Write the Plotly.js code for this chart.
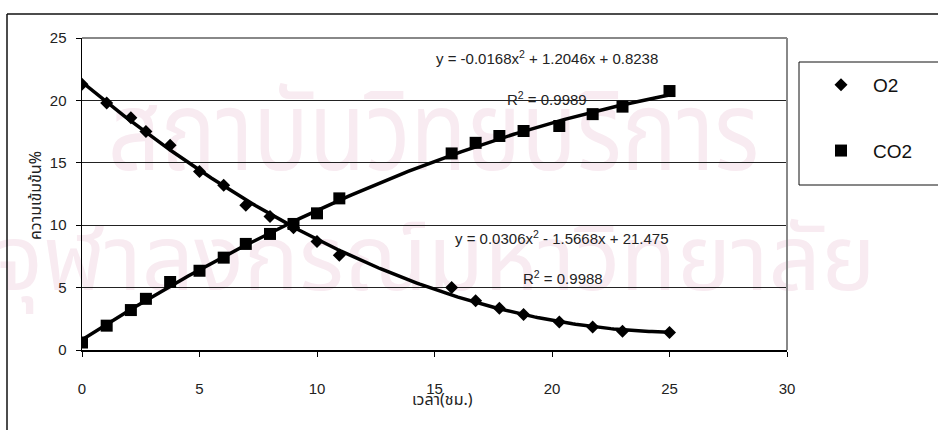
<!DOCTYPE html>
<html>
<head>
<meta charset="utf-8">
<script src="https://cdn.plot.ly/plotly-3.0.1.min.js"></script>
<style>
  html, body { margin: 0; padding: 0; background: #ffffff; }
  #wrap { position: relative; width: 938px; height: 430px; overflow: hidden; }
  #wm { position: absolute; left: 0; top: 0; width: 938px; height: 430px; z-index: 0; }
  #wm span { position: absolute; white-space: nowrap; color: #f8ebf1; transform-origin: 0 0;
             font-family: "Noto Sans Thai", "Loma", "Garuda", "Noto Sans", sans-serif; }
  #chart { position: absolute; left: 0; top: 0; z-index: 1; }
</style>
</head>
<body>
<div id="wrap">
  <div id="wm">
    <span style="left:108px; top:52px; font-size:92px; transform: scaleY(1.2);">สถาบันวิทยบริการ</span>
    <span style="left:-6px; top:192px; font-size:92px;">จุฬาลงกรณ์มหาวิทยาลัย</span>
  </div>
  <div id="chart"></div>
</div>
<script>
// Sampling times (hours)
const timeHours = [0, 1.05, 2.08, 2.72, 3.75, 5.0, 6.03, 6.97, 8.0, 9.0, 10.0, 10.95,
                   15.73, 16.75, 17.76, 18.79, 20.31, 21.73, 23.0, 25.0];
// Measured gas concentrations (%)
const o2Values  = [21.3, 19.8, 18.6, 17.5, 16.4, 14.3, 13.2, 11.6, 10.7, 9.8, 8.7, 7.6,
                   5.0, 3.95, 3.35, 2.85, 2.25, 1.85, 1.5, 1.4];
const co2Values = [0.6, 1.95, 3.2, 4.1, 5.45, 6.35, 7.4, 8.5, 9.3, 10.1, 10.95, 12.15,
                   15.75, 16.6, 17.15, 17.55, 17.95, 18.9, 19.5, 20.75];
// Polynomial trendline coefficients [a, b, c] for y = a*x^2 + b*x + c
const o2Fit  = [0.0306, -1.5668, 21.475];
const co2Fit = [-0.0168, 1.2046, 0.8238];
const o2R2 = "0.9988";
const co2R2 = "0.9989";
const seriesNames = ["O2", "CO2"];
const xTicks = [0, 5, 10, 15, 20, 25, 30];
const yTicks = [0, 5, 10, 15, 20, 25];

// Trendline drawn over the sampled time span
const tMin = Math.min(...timeHours), tMax = Math.max(...timeHours);
const fitX = [];
for (let i = 0; i <= 200; i++) fitX.push(tMin + (tMax - tMin) * i / 200);
const poly = (c, x) => c[0] * x * x + c[1] * x + c[2];
const fmt = (v, d) => (v < 0 ? "-" : "") + Math.abs(v).toFixed(d);
const eqText = c => "y = " + fmt(c[0], 4) + "x<sup>2</sup> " + (c[1] < 0 ? "- " : "+ ") +
  Math.abs(c[1]).toFixed(4) + "x " + (c[2] < 0 ? "- " : "+ ") + Math.abs(c[2]).toString();

const txtFont = { family: "Liberation Sans, Arial, sans-serif", size: 15, color: "#222" };
const thaiFont = { family: "Noto Sans Thai, Loma, Garuda, Liberation Sans, sans-serif", size: 16, color: "#222" };

const traces = [
  { x: fitX, y: fitX.map(x => poly(o2Fit, x)), mode: "lines", showlegend: false,
    line: { color: "#000", width: 3.5 }, hoverinfo: "skip" },
  { x: fitX, y: fitX.map(x => poly(co2Fit, x)), mode: "lines", showlegend: false,
    line: { color: "#000", width: 3.5 }, hoverinfo: "skip" },
  { x: timeHours, y: o2Values, mode: "markers", name: seriesNames[0], legendgroup: "a",
    marker: { symbol: "diamond", size: 10, color: "#000" } },
  { x: timeHours, y: co2Values, mode: "markers", name: seriesNames[1], legendgroup: "b",
    marker: { symbol: "square", size: 12, color: "#000" } }
];

const px2xp = p => (p - 82) / 705;
const py2yp = p => (350 - p) / 312;
const hLine = (x0, x1, y, color, w) => ({ type: "line", xref: "paper", yref: "paper",
  x0: px2xp(x0), x1: px2xp(x1), y0: py2yp(y), y1: py2yp(y), line: { color: color, width: w } });
const vLine = (x, y0, y1, color, w) => ({ type: "line", xref: "paper", yref: "paper",
  x0: px2xp(x), x1: px2xp(x), y0: py2yp(y0), y1: py2yp(y1), line: { color: color, width: w } });

const layout = {
  width: 938, height: 430,
  margin: { l: 82, r: 151, t: 38, b: 80 },
  paper_bgcolor: "rgba(0,0,0,0)", plot_bgcolor: "rgba(0,0,0,0)",
  font: txtFont,
  xaxis: {
    range: [0, 30], tickvals: xTicks, ticks: "outside", ticklen: 5, tickcolor: "#000",
    showgrid: false, zeroline: false, showline: true, linecolor: "#000", linewidth: 1.5,
    tickfont: txtFont, ticklabelstandoff: 19
  },
  yaxis: {
    range: [0, 25], tickvals: yTicks, ticks: "outside", ticklen: 5, tickcolor: "#000",
    showgrid: true, gridcolor: "#222", gridwidth: 1, zeroline: false,
    showline: true, linecolor: "#000", linewidth: 1.5,
    tickfont: txtFont, ticklabelstandoff: 6
  },
  showlegend: true,
  legend: {
    x: px2xp(809), y: py2yp(66), xanchor: "left", yanchor: "top",
    bgcolor: "rgba(0,0,0,0)", borderwidth: 0,
    font: { family: "Liberation Sans, Arial, sans-serif", size: 19, color: "#111" },
    itemwidth: 54, traceorder: "grouped", tracegroupgap: 38
  },
  shapes: [
    // outer chart frame (top and left edges are inside the canvas)
    hLine(7, 938, 14, "#111", 1.5),
    vLine(7, 14, 430, "#111", 1.5),
    // plot area top and right borders
    hLine(82, 787, 38, "#888", 2),
    vLine(787, 38, 350, "#888", 2),
    // legend box
    hLine(799, 938, 62, "#111", 1),
    hLine(799, 938, 185, "#111", 1),
    vLine(799, 62, 185, "#111", 1)
  ],
  annotations: [
    { text: eqText(co2Fit), x: 19.77, y: 23.4, xref: "x", yref: "y", showarrow: false, font: txtFont },
    { text: "R<sup>2</sup> = " + co2R2, x: 19.77, y: 20.19, xref: "x", yref: "y", showarrow: false, font: txtFont },
    { text: eqText(o2Fit), x: 20.43, y: 9.05, xref: "x", yref: "y", showarrow: false, font: txtFont },
    { text: "R<sup>2</sup> = " + o2R2, x: 20.45, y: 5.81, xref: "x", yref: "y", showarrow: false, font: txtFont },
    { text: "เวลา(ชม.)", x: px2xp(442), y: py2yp(414), xref: "paper", yref: "paper",
      showarrow: false, font: thaiFont },
    { text: "ความเข้มข้น%", x: px2xp(22), y: py2yp(196), xref: "paper", yref: "paper",
      showarrow: false, textangle: -90, font: thaiFont }
  ]
};

Plotly.newPlot("chart", traces, layout, { displayModeBar: false, staticPlot: true });
</script>
</body>
</html>
